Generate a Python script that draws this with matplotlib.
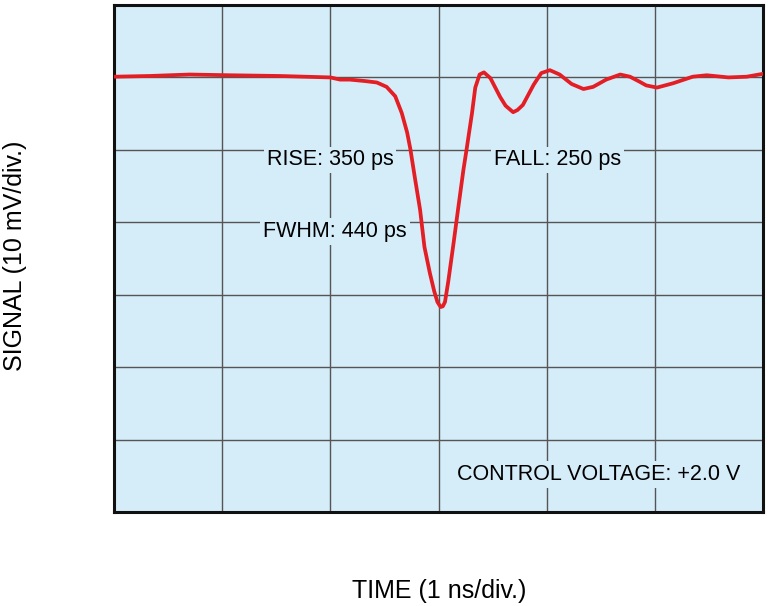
import matplotlib.pyplot as plt
import numpy as np

plt.rcParams['font.family'] = ['Liberation Sans', 'DejaVu Sans']

# time in ns (1 ns/div), signal in divisions (10 mV/div)
time_ns = [0.0, 0.33, 0.70, 1.07, 1.53, 2.0, 2.09, 2.18, 2.32, 2.43, 2.52, 2.60,
           2.66, 2.71, 2.74, 2.78, 2.83, 2.87, 2.92, 2.96, 2.99, 3.02, 3.04, 3.06,
           3.09, 3.14, 3.18, 3.23, 3.26, 3.31, 3.34, 3.38, 3.42, 3.48, 3.57, 3.62,
           3.69, 3.73, 3.78, 3.88, 3.95, 4.03, 4.12, 4.23, 4.34, 4.43, 4.55, 4.68,
           4.77, 4.86, 4.92, 5.02, 5.17, 5.35, 5.48, 5.68, 5.85, 6.0]
signal_div = [6.01, 6.02, 6.04, 6.03, 6.02, 6.00, 5.97, 5.97, 5.95, 5.93, 5.87, 5.74,
              5.51, 5.24, 5.01, 4.63, 4.17, 3.66, 3.30, 3.05, 2.90, 2.83, 2.84, 2.90,
              3.18, 3.72, 4.17, 4.72, 5.01, 5.51, 5.86, 6.04, 6.07, 5.99, 5.73, 5.61,
              5.52, 5.55, 5.62, 5.90, 6.06, 6.10, 6.04, 5.91, 5.84, 5.87, 5.97, 6.04,
              6.01, 5.94, 5.89, 5.86, 5.92, 6.01, 6.03, 6.00, 6.01, 6.05]

bg = '#d5ecf9'

fig = plt.figure(figsize=(7.68, 6.06), dpi=100)
ax = fig.add_axes([114 / 768, 94 / 606, 649 / 768, 507 / 606])
ax.set_facecolor(bg)

ax.plot(time_ns, signal_div, color='#e31e24', lw=2.7, solid_capstyle='round',
        solid_joinstyle='round', zorder=3)

ax.set_xlim(0, 6)
ax.set_ylim(0, 7)
ax.set_xticks(np.arange(1, 6))
ax.set_yticks(np.arange(1, 7))
ax.grid(True, color='#555555', lw=1.0)
ax.tick_params(length=0, labelbottom=False, labelleft=False)
for s in ax.spines.values():
    s.set_linewidth(2.2)
    s.set_color('#111111')

box = dict(facecolor=bg, edgecolor='none', pad=2)
fs = 15.5
ax.text(1.41, 4.86, 'RISE: 350 ps', fontsize=fs, va='center', ha='left', bbox=box, zorder=4)
ax.text(3.51, 4.86, 'FALL: 250 ps', fontsize=fs, va='center', ha='left', bbox=box, zorder=4)
ax.text(1.38, 3.87, 'FWHM: 440 ps', fontsize=fs, va='center', ha='left', bbox=box, zorder=4)
ax.text(5.79, 0.52, 'CONTROL VOLTAGE: +2.0 V', fontsize=fs, va='center', ha='right',
        bbox=box, zorder=4)

fig.text(439 / 768, 1 - 591 / 606, 'TIME (1 ns/div.)', fontsize=18, ha='center', va='center')
fig.text(15 / 768, 1 - 256 / 606, 'SIGNAL (10 mV/div.)', fontsize=18, ha='center',
         va='center', rotation=90)

fig.savefig('out.png', dpi=100)
